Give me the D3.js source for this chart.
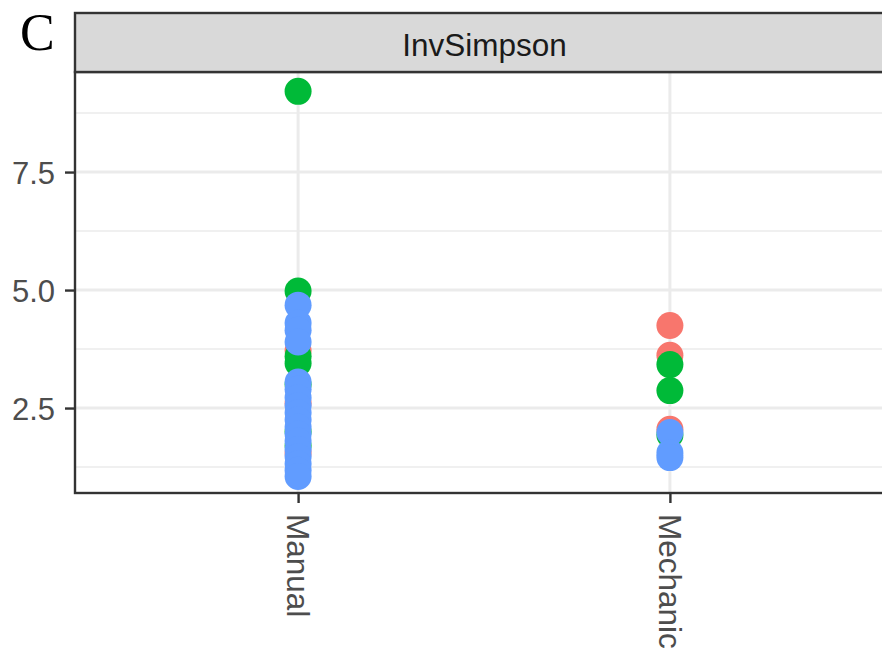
<!DOCTYPE html>
<html>
<head>
<meta charset="utf-8">
<script src="https://cdn.jsdelivr.net/npm/d3@7"></script>
<style>
  body { margin: 0; background: #fff; }
  svg { display: block; }
</style>
</head>
<body>
<script>
// facet label + categories
const panelLetter = "C";
const stripTitle = "InvSimpson";
const methods = ["Manual", "Mechanic"];
const yTicks = [2.5, 5.0, 7.5];
const yMinor = [1.25, 3.75, 6.25, 8.75];

// InvSimpson values, per group colour
const manualRed = [3.72, 2.6, 1.55];
const manualGreen = [9.21, 4.98, 3.6, 3.45, 3.0, 2.0, 1.7];
const manualBlue = [4.68, 4.3, 4.15, 3.9, 3.05, 2.9, 2.72, 2.55, 2.4, 2.25, 2.1, 1.95, 1.8, 1.62, 1.47, 1.32, 1.18, 1.05];
const mechanicRed = [4.25, 3.62, 2.05];
const mechanicGreen = [3.42, 2.87, 1.93];
const mechanicBlue = [1.98, 1.55, 1.45];

const colours = ["#F8766D", "#00BA38", "#619CFF"];

const w = 882, h = 652;
const padLeft = 75, padRight = 893, stripTop = 13, stripH = 59, panelBottom = 493;
const panelTop = stripTop + stripH;
const fontSans = "Liberation Sans, Arial, sans-serif";

const svg = d3.select("body").append("svg")
    .attr("width", w)
    .attr("height", h);

const x = d3.scalePoint()
    .domain(methods)
    .range([padLeft, padRight])
    .padding(0.6);

const y = d3.scaleLinear()
    .domain([0.70, 9.62])
    .range([panelBottom, panelTop]);

// grid
svg.append("g").selectAll("line")
    .data(yMinor)
    .enter().append("line")
    .attr("x1", padLeft).attr("x2", padRight)
    .attr("y1", d => y(d)).attr("y2", d => y(d))
    .attr("stroke", "#EBEBEB")
    .attr("stroke-width", 1.6);

svg.append("g").selectAll("line")
    .data(yTicks)
    .enter().append("line")
    .attr("x1", padLeft).attr("x2", padRight)
    .attr("y1", d => y(d)).attr("y2", d => y(d))
    .attr("stroke", "#EBEBEB")
    .attr("stroke-width", 3);

svg.append("g").selectAll("line")
    .data(methods)
    .enter().append("line")
    .attr("x1", d => x(d)).attr("x2", d => x(d))
    .attr("y1", panelTop).attr("y2", panelBottom)
    .attr("stroke", "#EBEBEB")
    .attr("stroke-width", 3);

// points, red then green then blue so blue lands on top
const pts = [];
const groups = [
  [manualRed, manualGreen, manualBlue],
  [mechanicRed, mechanicGreen, mechanicBlue]
];
for (let c = 0; c < 3; c++) {
  groups.forEach((g, i) => {
    g[c].forEach(v => pts.push({ method: methods[i], value: v, col: colours[c] }));
  });
}

svg.append("g").selectAll("circle")
    .data(pts)
    .enter().append("circle")
    .attr("cx", d => x(d.method))
    .attr("cy", d => y(d.value))
    .attr("r", 13.5)
    .attr("fill", d => d.col);

// panel border
svg.append("rect")
    .attr("x", padLeft).attr("y", panelTop)
    .attr("width", padRight - padLeft).attr("height", panelBottom - panelTop)
    .attr("fill", "none")
    .attr("stroke", "#333333")
    .attr("stroke-width", 2.4);

// strip
svg.append("rect")
    .attr("x", padLeft).attr("y", stripTop)
    .attr("width", padRight - padLeft).attr("height", stripH)
    .attr("fill", "#D9D9D9")
    .attr("stroke", "#333333")
    .attr("stroke-width", 2.4);

svg.append("text")
    .attr("x", 484.5)
    .attr("y", 56)
    .attr("text-anchor", "middle")
    .attr("font-family", fontSans)
    .attr("font-size", 31.5)
    .attr("fill", "#1A1A1A")
    .text(stripTitle);

// axes
const yAxis = d3.axisLeft(y)
    .tickValues(yTicks)
    .tickFormat(d3.format(".1f"))
    .tickSize(10)
    .tickPadding(10);

const gy = svg.append("g")
    .attr("transform", "translate(" + padLeft + ",0)")
    .call(yAxis);
gy.select(".domain").remove();
gy.selectAll("line").attr("stroke", "#333333").attr("stroke-width", 2.4);
gy.selectAll("text")
    .attr("font-family", fontSans)
    .attr("font-size", 31)
    .attr("fill", "#4D4D4D")
    .attr("dy", "0.36em");

const xAxis = d3.axisBottom(x)
    .tickSize(10)
    .tickPadding(6);

const gx = svg.append("g")
    .attr("transform", "translate(0," + panelBottom + ")")
    .call(xAxis);
gx.select(".domain").remove();
gx.selectAll("line").attr("stroke", "#333333").attr("stroke-width", 2.4);
gx.selectAll("text")
    .attr("font-family", fontSans)
    .attr("font-size", 31.5)
    .attr("fill", "#4D4D4D")
    .attr("text-anchor", "start")
    .attr("transform", "rotate(90)")
    .attr("x", 21)
    .attr("y", 0)
    .attr("dy", "0.36em");

// panel tag
svg.append("text")
    .attr("x", 20)
    .attr("y", 50)
    .attr("font-family", "Liberation Serif, Times New Roman, serif")
    .attr("font-size", 52)
    .attr("fill", "#000")
    .text(panelLetter);
</script>
</body>
</html>
